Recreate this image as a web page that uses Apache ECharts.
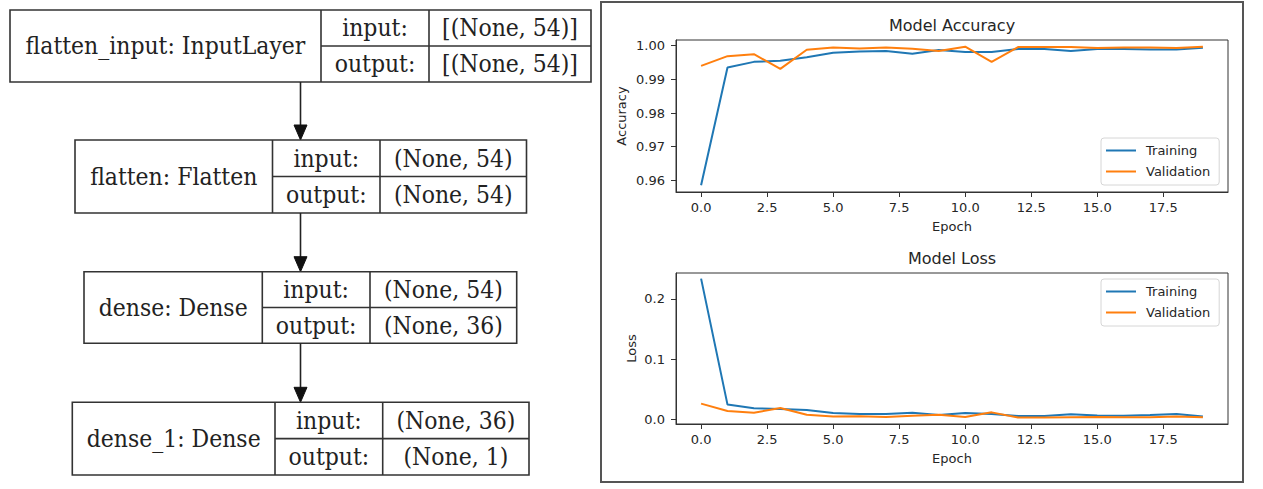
<!DOCTYPE html>
<html>
<head>
<meta charset="utf-8">
<script src="https://cdn.jsdelivr.net/npm/echarts@6/dist/echarts.min.js"></script>
<style>
html,body{margin:0;padding:0;background:#fff;}
#chart{width:1263px;height:489px;}
</style>
</head>
<body>
<div id="chart"></div>
<script>
// ---- data ----
const epochs = [0,1,2,3,4,5,6,7,8,9,10,11,12,13,14,15,16,17,18,19];
const accTrain = [0.9585,0.9935,0.9952,0.9955,0.9966,0.9979,0.9983,0.9984,0.9976,0.9987,0.9981,0.9981,0.9990,0.9990,0.9984,0.9990,0.9990,0.9989,0.9989,0.9994];
const accVal   = [0.9940,0.9969,0.9975,0.9931,0.9988,0.9995,0.9992,0.9995,0.9991,0.9984,0.9997,0.9952,0.9996,0.9996,0.9996,0.9993,0.9995,0.9995,0.9993,0.9997];
const lossTrain = [0.234,0.024,0.0178,0.0167,0.015,0.010,0.0083,0.0083,0.0106,0.0067,0.010,0.0083,0.005,0.005,0.0078,0.006,0.0055,0.0065,0.0083,0.004];
const lossVal   = [0.0256,0.0133,0.0106,0.0183,0.007,0.004,0.0045,0.0035,0.0055,0.007,0.0035,0.0111,0.0025,0.0025,0.003,0.0035,0.003,0.003,0.004,0.003];
const seriesNames = ['Training','Validation'];
const xTicks = [0,2.5,5,7.5,10,12.5,15,17.5];
const accTicks = [0.96,0.97,0.98,0.99,1.00];
const lossTicks = [0,0.1,0.2];
const chartTitles = ['Model Accuracy','Model Loss'];
const yNames = ['Accuracy','Loss'];
const xName = 'Epoch';
const layerNames = ['flatten_input: InputLayer','flatten: Flatten','dense: Dense','dense_1: Dense'];
const layerInputs = ['[(None, 54)]','(None, 54)','(None, 54)','(None, 36)'];
const layerOutputs = ['[(None, 54)]','(None, 54)','(None, 36)','(None, 1)'];
const portLabels = ['input:','output:'];

// ---- layout (diagram geometry) ----
const boxes = [
  {x0:10,   d1:321,   d2:429,   x1:591,   y0:10,    y1:82},
  {x0:75,   d1:272.5, d2:380,   x1:526.5, y0:140,   y1:213},
  {x0:84,   d1:262.3, d2:370,   x1:516.7, y0:271.7, y1:343.3},
  {x0:72.3, d1:275,   d2:382.7, x1:529,   y0:402.3, y1:475}
];
const arrowX = 300.5;
const INK = '#262626';
const SERIF = 'DejaVu Serif';
const SANS = 'DejaVu Sans';

const graphic = [];
function txt(x, y, s) {
  graphic.push({type:'text', x:x, y:y, scaleY:1.08, silent:true,
    style:{text:s, fontFamily:SERIF, fontSize:22, fill:'#222', align:'center', verticalAlign:'middle'}});
}
function line(x1,y1,x2,y2,w,c){
  graphic.push({type:'line', silent:true, shape:{x1:x1,y1:y1,x2:x2,y2:y2}, style:{stroke:c||'#333', lineWidth:w||1.5}});
}
boxes.forEach((b,i)=>{
  const mid = (b.y0+b.y1)/2;
  graphic.push({type:'rect', silent:true, shape:{x:b.x0,y:b.y0,width:b.x1-b.x0,height:b.y1-b.y0}, style:{fill:'#fff', stroke:'#333', lineWidth:1.6}});
  line(b.d1,b.y0,b.d1,b.y1,1.6);
  line(b.d2,b.y0,b.d2,b.y1,1.6);
  line(b.d1,mid,b.x1,mid,1.6);
  txt((b.x0+b.d1)/2, mid, layerNames[i]);
  txt((b.d1+b.d2)/2, (b.y0+mid)/2, portLabels[0]);
  txt((b.d1+b.d2)/2, (mid+b.y1)/2, portLabels[1]);
  txt((b.d2+b.x1)/2, (b.y0+mid)/2, layerInputs[i]);
  txt((b.d2+b.x1)/2, (mid+b.y1)/2, layerOutputs[i]);
  if (i < boxes.length-1) {
    const nb = boxes[i+1];
    line(arrowX, b.y1, arrowX, nb.y0-14, 1.6, '#222');
    graphic.push({type:'polygon', silent:true, shape:{points:[[arrowX-6.5,nb.y0-15],[arrowX+6.5,nb.y0-15],[arrowX,nb.y0]]}, style:{fill:'#111', stroke:'#111', lineWidth:1}});
  }
});
// right panel border
graphic.push({type:'rect', silent:true, z:-1, shape:{x:601,y:2,width:642,height:480}, style:{fill:'none', stroke:'#555', lineWidth:2}});

// ---- charts ----
const zip = (xs, ys) => xs.map((x,i)=>[x, ys[i]]);
const grids = [
  {left:676, top:40, width:552, height:152},
  {left:676, top:273, width:552, height:151}
];
const yRanges = [[0.95652,1.0017],[-0.0083,0.2433]];
const yTickSets = [accTicks, lossTicks];
const yDigits = [2,1];
const yNameGaps = [48,38];
const legendTops = [138,279];
const titleTops = [16,249];
const textBase = {fontFamily:SANS, fontSize:13, color:INK};

const option = {
  animation:false,
  backgroundColor:'#fff',
  title: chartTitles.map((t,i)=>({text:t, left:952, top:titleTops[i], textAlign:'center', padding:0,
    textStyle:{fontFamily:SANS, fontSize:16, fontWeight:'normal', color:INK, lineHeight:18}})),
  grid: grids.map(g=>Object.assign({show:true, borderColor:'#333', borderWidth:1, containLabel:false, outerBoundsMode:'none'}, g)),
  xAxis: [0,1].map(i=>({type:'value', gridIndex:i, min:-0.95, max:19.95,
    name:xName, nameLocation:'middle', nameGap:28, nameTextStyle:textBase,
    axisLine:{show:true, onZero:false, lineStyle:{color:'#333', width:1}},
    axisTick:{show:true, length:5, customValues:xTicks, lineStyle:{color:'#333', width:1}},
    axisLabel:Object.assign({customValues:xTicks, margin:9, formatter:v=>Number(v).toFixed(1)}, textBase),
    splitLine:{show:false}})),
  yAxis: [0,1].map(i=>({type:'value', gridIndex:i, min:yRanges[i][0], max:yRanges[i][1],
    name:yNames[i], nameLocation:'middle', nameGap:yNameGaps[i], nameTextStyle:textBase,
    axisLine:{show:true, onZero:false, lineStyle:{color:'#333', width:1}},
    axisTick:{show:true, length:5, customValues:yTickSets[i], lineStyle:{color:'#333', width:1}},
    axisLabel:Object.assign({customValues:yTickSets[i], margin:11, formatter:v=>Number(v).toFixed(yDigits[i])}, textBase),
    splitLine:{show:false}})),
  legend: [0,1].map(i=>({data:seriesNames, orient:'vertical', left:1101, top:legendTops[i],
    icon:'rect', padding:[5,9,6,5], itemWidth:30, itemHeight:2, itemGap:6,
    backgroundColor:'rgba(255,255,255,0.85)', borderColor:'#d6d6d6', borderWidth:1, borderRadius:3,
    selectedMode:false,
    textStyle:{fontFamily:SANS, fontSize:13, color:INK, padding:[0,0,0,5], lineHeight:15}})),
  series: [
    {type:'line', name:seriesNames[0], xAxisIndex:0, yAxisIndex:0, data:zip(epochs,accTrain), symbol:'none', lineStyle:{width:2,color:'#1f77b4'}, itemStyle:{color:'#1f77b4'}},
    {type:'line', name:seriesNames[1], xAxisIndex:0, yAxisIndex:0, data:zip(epochs,accVal), symbol:'none', lineStyle:{width:2,color:'#ff7f0e'}, itemStyle:{color:'#ff7f0e'}},
    {type:'line', name:seriesNames[0], xAxisIndex:1, yAxisIndex:1, data:zip(epochs,lossTrain), symbol:'none', lineStyle:{width:2,color:'#1f77b4'}, itemStyle:{color:'#1f77b4'}},
    {type:'line', name:seriesNames[1], xAxisIndex:1, yAxisIndex:1, data:zip(epochs,lossVal), symbol:'none', lineStyle:{width:2,color:'#ff7f0e'}, itemStyle:{color:'#ff7f0e'}}
  ],
  graphic: graphic
};

const chart = echarts.init(document.getElementById('chart'), null, {renderer:'svg', width:1263, height:489});
chart.setOption(option);
</script>
</body>
</html>
